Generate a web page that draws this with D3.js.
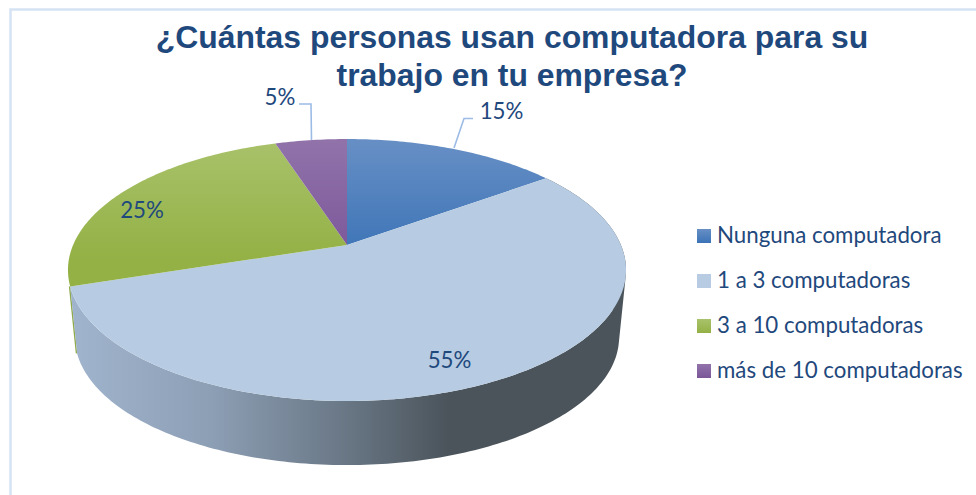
<!DOCTYPE html>
<html><head><meta charset="utf-8">
<script src="https://cdn.jsdelivr.net/npm/d3@7"></script>
<style>html,body{margin:0;padding:0;background:#fff}svg{display:block}</style>
</head><body><svg id="c" width="976" height="495"></svg>
<script>
const titleLines = ["¿Cuántas personas usan computadora para su", "trabajo en tu empresa?"];
const categories = ["Nunguna computadora", "1 a 3 computadoras", "3 a 10 computadoras", "más de 10 computadoras"];
const values = [15, 55, 25, 5];
const topColors = [["#678fc5", "#3b73b6"], ["#b7cce2", "#b7cce2"], ["#a9c26b", "#93b145"], ["#9173aa", "#7b5699"]];
const edgeColor = "#8fab4a";

const svg = d3.select("#c");
const W = 976, H = 495;
const defs = svg.append("defs");
const ink = "#1f497d";

// frame
svg.append("rect").attr("x", 10.5).attr("y", 9.5).attr("width", W).attr("height", H).attr("fill", "#fff")
  .attr("stroke", "#d5e3f4").attr("stroke-width", 2.5);

// perspective disc
const cx = 347, y0 = 245, R = 273.9, K = 0.191, Hh = 126.2, depth = 68, shrink = 0.975;
function proj(a, lower) {
  const u = Math.sin(a), v = Math.cos(a), d = 1 + K * v, s = lower ? shrink : 1;
  return [cx + s * R * u / d, (lower ? y0 + depth : y0) - s * Hh * v / d];
}
const pie = d3.pie().sort(null).value(d => d).startAngle(0).endAngle(2 * Math.PI)(values);
const line = d3.line();
function arcPts(a0, a1, lower) {
  const n = Math.max(2, Math.ceil((a1 - a0) * 60));
  return d3.range(n + 1).map(i => proj(a0 + (a1 - a0) * i / n, lower));
}
// rim as one consistently wound quad per arc step, so the silhouette stays solid where the two rims cross
function bandPath(a0, a1) {
  const t = arcPts(a0, a1, false), b = arcPts(a0, a1, true);
  let out = "";
  for (let i = 0; i < t.length - 1; i++) {
    let q = [t[i], t[i + 1], b[i + 1], b[i]];
    if (d3.polygonArea(q) < 0) q = q.reverse();
    out += line(q) + "Z";
  }
  return out;
}

// gradients
topColors.forEach((c, i) => {
  const g = defs.append("linearGradient").attr("id", "t" + i).attr("gradientUnits", "userSpaceOnUse")
    .attr("x1", 0).attr("x2", 0).attr("y1", 139).attr("y2", 260);
  g.append("stop").attr("offset", 0).attr("stop-color", c[0]);
  g.append("stop").attr("offset", 1).attr("stop-color", c[1]);
  const l = defs.append("linearGradient").attr("id", "l" + i).attr("x1", 0).attr("x2", 0).attr("y1", 0).attr("y2", 1);
  l.append("stop").attr("offset", 0).attr("stop-color", c[0]);
  l.append("stop").attr("offset", 1).attr("stop-color", c[1]);
});
const sg = defs.append("linearGradient").attr("id", "side").attr("gradientUnits", "userSpaceOnUse")
  .attr("x1", 72).attr("x2", 626).attr("y1", 0).attr("y2", 0);
[[0, "#a0b4cd"], [0.25, "#8d9fb5"], [0.5, "#687684"], [0.68, "#4b545b"], [1, "#4b545b"]]
  .forEach(s => sg.append("stop").attr("offset", s[0]).attr("stop-color", s[1]));

// rim: only the slice that faces the viewer shows a wall; the next slice shows a thin edge beside it
pie.forEach((p, i) => {
  if (p.startAngle < Math.PI && p.endAngle > Math.PI) {
    const edge = [proj(p.endAngle, false), proj(p.endAngle, true)].map(q => [q[0] - 0.6, q[1]]);
    svg.append("path").attr("d", line(edge)).attr("fill", "none")
      .attr("stroke", edgeColor).attr("stroke-width", 1.4);
    svg.append("path").attr("d", bandPath(p.startAngle, p.endAngle)).attr("fill", "url(#side)");
  }
});
// top faces
pie.forEach((p, i) => {
  const pts = [[cx, y0]].concat(arcPts(p.startAngle, p.endAngle, false));
  svg.append("path").attr("d", line(pts) + "Z").attr("fill", `url(#t${i})`);
});

// title
svg.append("g").selectAll("text").data(titleLines).join("text")
  .attr("x", 512).attr("y", (d, i) => 48 + i * 37.5).attr("text-anchor", "middle")
  .attr("font-family", "Liberation Sans").attr("font-weight", 700).attr("font-size", 31.9)
  .attr("fill", ink).text(d => d);

// leaders
const leaderCol = "#9cbce6";
[[[454, 148], [464, 118.5], [473, 118.5]], [[311.5, 140], [311, 104], [299, 104]]].forEach(pts =>
  svg.append("path").attr("d", line(pts)).attr("fill", "none").attr("stroke", leaderCol).attr("stroke-width", 1.6));

// data labels
const labelPos = [[501.5, 119], [449.5, 368], [142, 218], [280, 104.5]];
svg.append("g").selectAll("text").data(values).join("text")
  .attr("x", (d, i) => labelPos[i][0]).attr("y", (d, i) => labelPos[i][1]).attr("text-anchor", "middle")
  .attr("font-family", "Lato").attr("font-size", 22.3).attr("fill", ink).text(d => d + "%");

// legend
const ly = d3.scalePoint().domain(categories).range([236, 371]);
const lg = svg.append("g").selectAll("g").data(categories).join("g");
lg.append("rect").attr("x", 697).attr("y", d => ly(d) - 7).attr("width", 14).attr("height", 14)
  .attr("fill", (d, i) => `url(#l${i})`);
lg.append("text").attr("x", 717).attr("y", d => ly(d) + 7)
  .attr("font-family", "Lato").attr("font-size", 22.3).attr("fill", ink).text(d => d);
</script></body></html>
